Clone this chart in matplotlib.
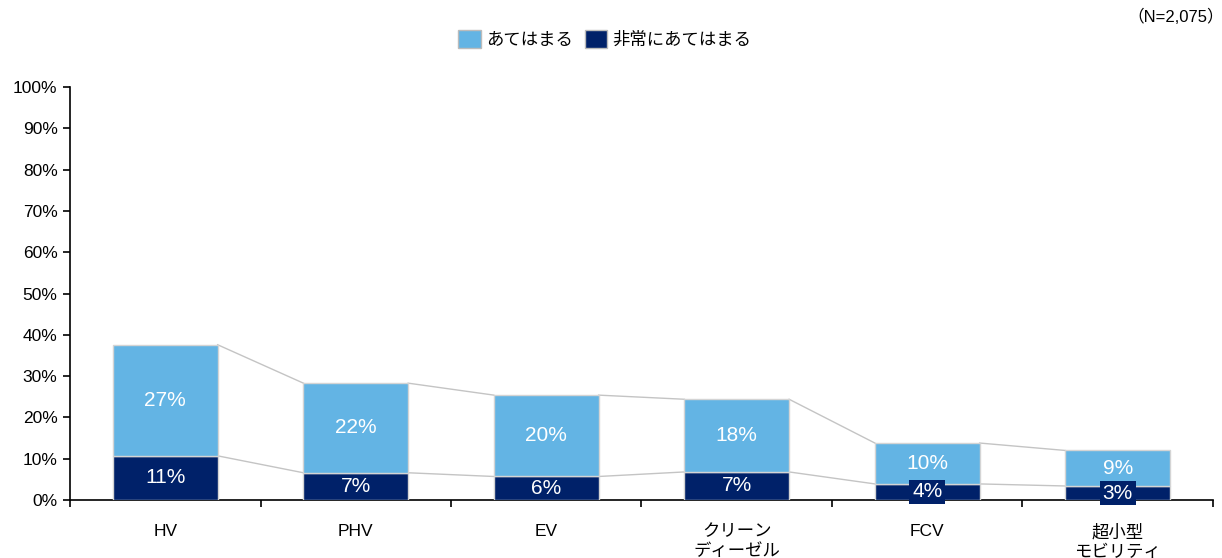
import matplotlib
matplotlib.use("Agg")
import matplotlib.pyplot as plt
import numpy as np

plt.rcParams['font.family'] = ['Liberation Sans', 'Noto Sans CJK JP', 'DejaVu Sans']

############################## DATA ##############################
categories = ["HV", "PHV", "EV", "クリーン\nディーゼル", "FCV", "超小型\nモビリティ"]
very_true = [10.7, 6.6, 5.7, 6.8, 3.9, 3.4]      # 非常にあてはまる
true = [26.9, 21.7, 19.7, 17.6, 9.9, 8.6]        # あてはまる
yticks = np.arange(0, 101, 10)
##################################################################

light = "#63B4E4"
navy = "#002169"
edge = "#d4d4d4"
conn = "#c4c4c4"
w = 0.55

fig = plt.figure(figsize=(12.22, 5.58), dpi=100)
ax = fig.add_axes([0.0573, 0.1039, 0.9353, 0.7401])

x = np.arange(len(categories))
bottom = np.array(very_true)
top = np.array(true)
total = bottom + top

ax.bar(x, bottom, width=w, color=navy, edgecolor=edge, linewidth=1, label="非常にあてはまる", zorder=3)
ax.bar(x, top, width=w, bottom=bottom, color=light, edgecolor=edge, linewidth=1, label="あてはまる", zorder=3)

# connector lines between bars
for i in range(len(x) - 1):
    for s in (bottom, total):
        ax.plot([x[i] + w / 2, x[i + 1] - w / 2], [s[i], s[i + 1]], color=conn, lw=1, zorder=2)

for i in range(len(x)):
    box = dict(facecolor=navy, edgecolor="none", pad=2) if bottom[i] < 5 else None
    ax.text(x[i], bottom[i] / 2, "{:.0f}%".format(bottom[i]), ha="center", va="center",
            color="white", fontsize=15, zorder=5, bbox=box)
    ax.text(x[i], bottom[i] + top[i] / 2, "{:.0f}%".format(top[i]), ha="center", va="center",
            color="white", fontsize=15, zorder=5)

ax.set_ylim(0, 100)
ax.set_xlim(-0.5, len(x) - 0.5)
ax.set_yticks(yticks)
ax.set_yticklabels(["{}%".format(v) for v in yticks], fontsize=12.5)
ax.set_xticks(x)
ax.set_xticklabels(categories, fontsize=12.5)
ax.set_xticks(np.arange(-0.5, len(x), 1), minor=True)
ax.tick_params(axis="x", which="major", length=0, pad=17)
ax.tick_params(axis="x", which="minor", length=5, width=1.2, direction="out")
ax.tick_params(axis="y", length=5, width=1.2, direction="out", pad=4)
for t in ax.get_xticklabels():
    t.set_va("top")
    t.set_linespacing(1.35)
ax.spines["top"].set_visible(False)
ax.spines["right"].set_visible(False)
ax.spines["left"].set_linewidth(1.2)
ax.spines["bottom"].set_linewidth(1.2)

h, l = ax.get_legend_handles_labels()
leg = fig.legend(h[::-1], l[::-1], loc="center", bbox_to_anchor=(0.495, 1 - 39 / 558), ncol=2,
                 frameon=False, fontsize=12.5, handlelength=1.3, handleheight=1.3,
                 handletextpad=0.3, columnspacing=0.7)
for p in leg.get_patches():
    p.set_edgecolor("#bbbbbb")

fig.text(1.002, 1 - 17 / 558, "（N=2,075）", ha="right", va="center", fontsize=12)

fig.savefig("out.png", dpi=100)
